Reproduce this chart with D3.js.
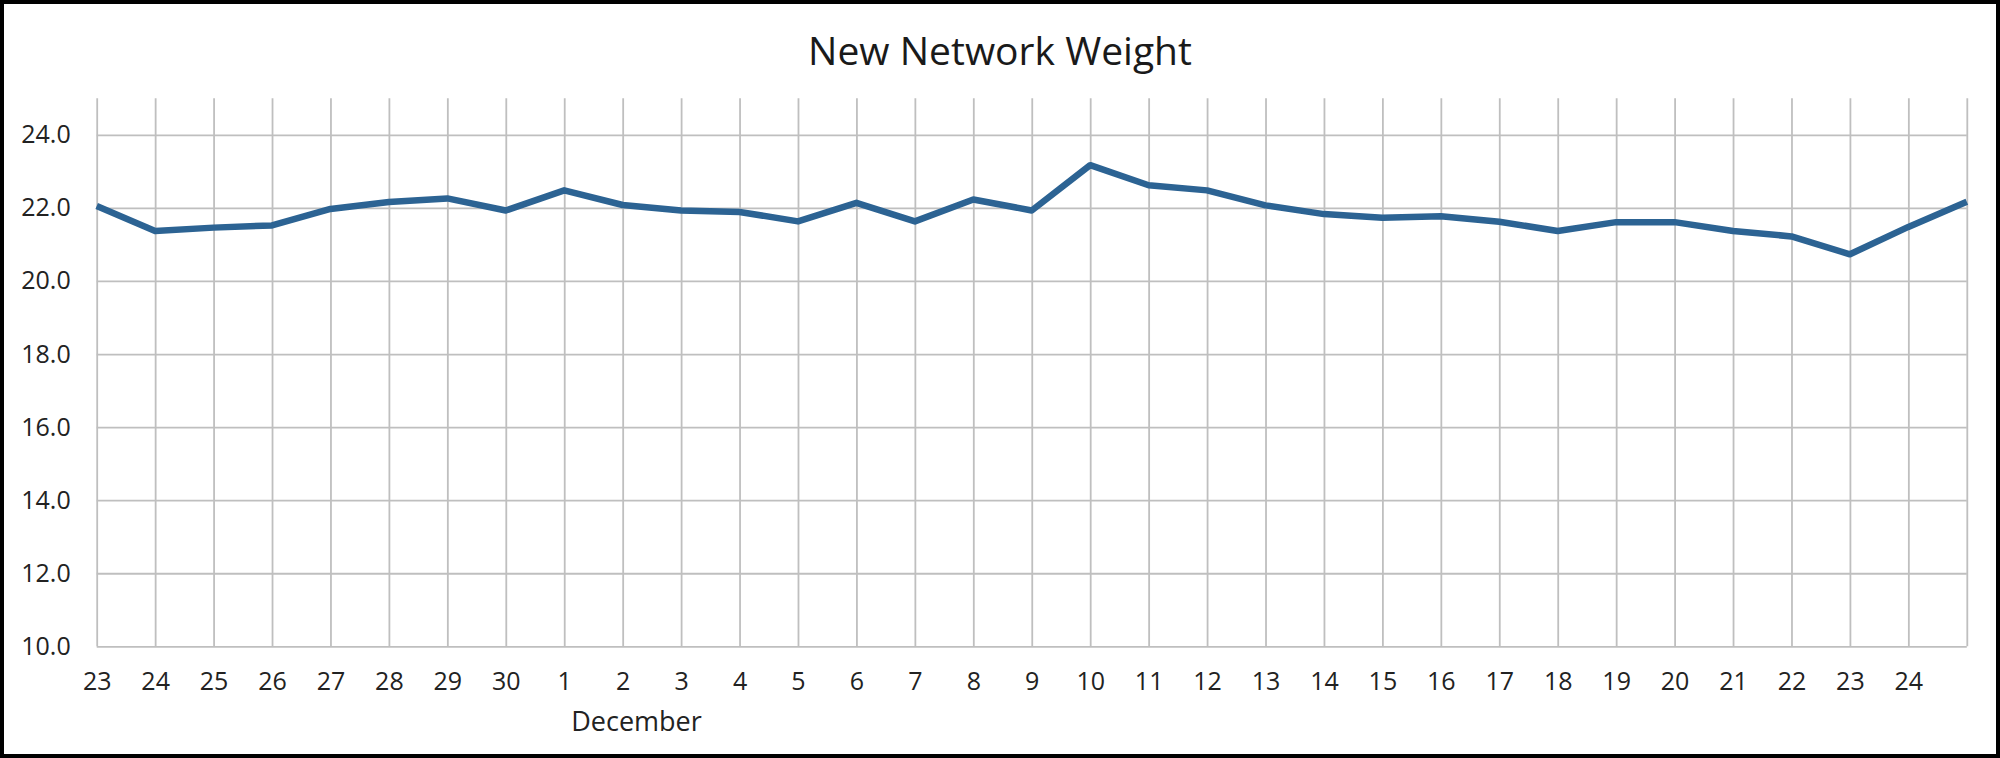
<!DOCTYPE html>
<html>
<head>
<meta charset="utf-8">
<script src="https://cdn.jsdelivr.net/npm/d3@7/dist/d3.min.js"></script>
<style>
  html, body { margin: 0; padding: 0; background: #ffffff; }
  svg { display: block; }
</style>
</head>
<body>
<svg id="chart" width="2000" height="758"></svg>
<script>
// ---- data ----
const title = "New Network Weight";
const days = [23, 24, 25, 26, 27, 28, 29, 30, 1, 2, 3, 4, 5, 6, 7, 8, 9, 10, 11, 12, 13, 14, 15, 16, 17, 18, 19, 20, 21, 22, 23, 24, 25];
const weights = [22.05, 21.37, 21.46, 21.52, 21.97, 22.16, 22.26, 21.93, 22.48, 22.08, 21.93, 21.89, 21.63, 22.14, 21.63, 22.23, 21.93, 23.17, 22.62, 22.48, 22.07, 21.83, 21.73, 21.77, 21.62, 21.37, 21.61, 21.61, 21.37, 21.22, 20.73, 21.48, 22.17];
const xTickLabels = ["23", "24", "25", "26", "27", "28", "29", "30", "1", "2", "3", "4", "5", "6", "7", "8", "9", "10", "11", "12", "13", "14", "15", "16", "17", "18", "19", "20", "21", "22", "23", "24"];
const yTicks = [10, 12, 14, 16, 18, 20, 22, 24];
const yDomain = [10, 25];
const monthLabel = "December";
const monthStartIndex = 8; // position of day "1"

// ---- layout ----
const W = 2000, H = 758;
const plot = { left: 96.7, right: 1966.8, top: 98.3, bottom: 646.3 };
const font = "'Open Sans', 'Noto Sans', sans-serif";
const gridColor = "#bfbfbf";
const lineColor = "#2c6393";

const svg = d3.select("#chart");

svg.append("rect").attr("x", 0).attr("y", 0).attr("width", W).attr("height", H).attr("fill", "#ffffff");

const x = d3.scaleLinear().domain([0, days.length - 1]).range([plot.left, plot.right]);
const y = d3.scaleLinear().domain(yDomain).range([plot.bottom, plot.top]);

// vertical gridlines
const xGrid = d3.axisBottom(x)
  .tickValues(d3.range(days.length))
  .tickSize(-(plot.bottom - plot.top))
  .tickFormat("");
svg.append("g")
  .attr("transform", `translate(0,${plot.bottom})`)
  .call(xGrid)
  .call(g => g.select(".domain").remove())
  .call(g => g.selectAll("line").attr("stroke", gridColor).attr("stroke-width", 1.8));

// horizontal gridlines
const yGrid = d3.axisLeft(y)
  .tickValues(yTicks)
  .tickSize(-(plot.right - plot.left))
  .tickFormat("");
svg.append("g")
  .attr("transform", `translate(${plot.left},0)`)
  .call(yGrid)
  .call(g => g.select(".domain").remove())
  .call(g => g.selectAll("line").attr("stroke", gridColor).attr("stroke-width", 1.8));

// y axis labels
const yAxis = d3.axisLeft(y)
  .tickValues(yTicks)
  .tickSize(0)
  .tickPadding(26)
  .tickFormat(d3.format(".1f"));
svg.append("g")
  .attr("transform", `translate(${plot.left},0)`)
  .call(yAxis)
  .call(g => g.select(".domain").remove())
  .call(g => g.selectAll("text")
    .attr("font-family", font)
    .attr("font-size", 25)
    .attr("fill", "#222222"));

// x axis labels
const xAxis = d3.axisBottom(x)
  .tickValues(d3.range(xTickLabels.length))
  .tickSize(0)
  .tickPadding(26)
  .tickFormat(i => xTickLabels[i]);
svg.append("g")
  .attr("transform", `translate(0,${plot.bottom})`)
  .call(xAxis)
  .call(g => g.select(".domain").remove())
  .call(g => g.selectAll("text")
    .attr("font-family", font)
    .attr("font-size", 25)
    .attr("fill", "#222222"));

// month label
svg.append("text")
  .attr("x", x(monthStartIndex) + 7)
  .attr("y", 731)
  .attr("font-family", font)
  .attr("font-size", 27)
  .attr("fill", "#222222")
  .text(monthLabel);

// line
const line = d3.line()
  .x((d, i) => x(i))
  .y(d => y(d));
svg.append("path")
  .datum(weights)
  .attr("d", line)
  .attr("fill", "none")
  .attr("stroke", lineColor)
  .attr("stroke-width", 6.5)
  .attr("stroke-linejoin", "round")
  .attr("stroke-linecap", "butt");

// title
svg.append("text")
  .attr("x", W / 2)
  .attr("y", 65)
  .attr("text-anchor", "middle")
  .attr("font-family", font)
  .attr("font-size", 39)
  .attr("fill", "#1a1a1a")
  .text(title);

// outer border
svg.append("rect")
  .attr("x", 2).attr("y", 2)
  .attr("width", W - 4).attr("height", H - 4)
  .attr("fill", "none")
  .attr("stroke", "#000000")
  .attr("stroke-width", 4);
</script>
</body>
</html>
